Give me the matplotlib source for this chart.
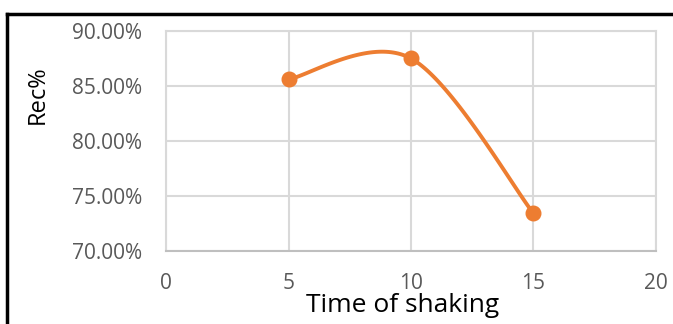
import matplotlib
matplotlib.use("Agg")
import matplotlib.pyplot as plt
from matplotlib.lines import Line2D
from matplotlib.ticker import FuncFormatter
import numpy as np

shake_time = [5, 10, 15]
recovery = [85.6, 87.5, 73.4]
x_ticks = [0, 5, 10, 15, 20]
y_ticks = [70, 75, 80, 85, 90]

plt.rcParams["font.family"] = ["Open Sans", "DejaVu Sans"]

ORANGE = "#ED7D31"
GRID = "#D9D9D9"
TICK = "#595959"


def smooth(xs, ys, n=60):
    # spreadsheet-style smoothed line: cubic Bezier, Catmull-Rom handles
    p = np.column_stack([xs, ys]).astype(float)
    ext = np.vstack([p[0], p, p[-1]])
    out = []
    t = np.linspace(0, 1, n)[:, None]
    for i in range(len(p) - 1):
        p0, p1 = ext[i + 1], ext[i + 2]
        c1 = p0 + (ext[i + 2] - ext[i]) / 6
        c2 = p1 - (ext[i + 3] - ext[i + 1]) / 6
        seg = ((1 - t) ** 3) * p0 + 3 * ((1 - t) ** 2) * t * c1 \
            + 3 * (1 - t) * t ** 2 * c2 + t ** 3 * p1
        out.append(seg)
    s = np.vstack(out)
    return s[:, 0], s[:, 1]


fig = plt.figure(figsize=(6.73, 3.24), dpi=100)
ax = fig.add_axes([0.2467, 0.2262, 0.728, 0.6781])

sx, sy = smooth(shake_time, recovery)
ax.plot(sx, sy, color=ORANGE, lw=2.8, solid_capstyle="round", zorder=3)
ax.plot(shake_time, recovery, "o", color=ORANGE, ms=10.5, zorder=4)

ax.set_xlim(0, 20)
ax.set_ylim(70, 90)
ax.set_xticks(x_ticks)
ax.set_yticks(y_ticks)
ax.yaxis.set_major_formatter(FuncFormatter(lambda v, _: f"{v:.2f}%"))
ax.grid(True, color=GRID, lw=1.5, zorder=0)
ax.set_axisbelow(True)
for side in ["left", "right", "top"]:
    ax.spines[side].set_color(GRID)
    ax.spines[side].set_linewidth(1.5)
ax.spines["bottom"].set_color("#BFBFBF")
ax.spines["bottom"].set_linewidth(1.5)
ax.tick_params(length=0, labelsize=15, labelcolor=TICK)
ax.tick_params(axis="y", pad=17)
ax.tick_params(axis="x", pad=16)

fig.text(403 / 673, 1 - 312 / 324, "Time of shaking", ha="center",
         va="baseline", fontsize=19, color="black")
fig.text(38 / 673, 1 - 95 / 324, "Rec%", ha="center", va="center",
         rotation=90, fontsize=17, color="black")

# black frame on the left and top edges
fig.add_artist(Line2D([0.0111, 0.0111], [0, 0.9583], color="black", lw=2.5,
                      transform=fig.transFigure))
fig.add_artist(Line2D([0.0111, 1], [0.9583, 0.9583], color="black", lw=2.5,
                      transform=fig.transFigure))

fig.savefig("out.png", dpi=100)
